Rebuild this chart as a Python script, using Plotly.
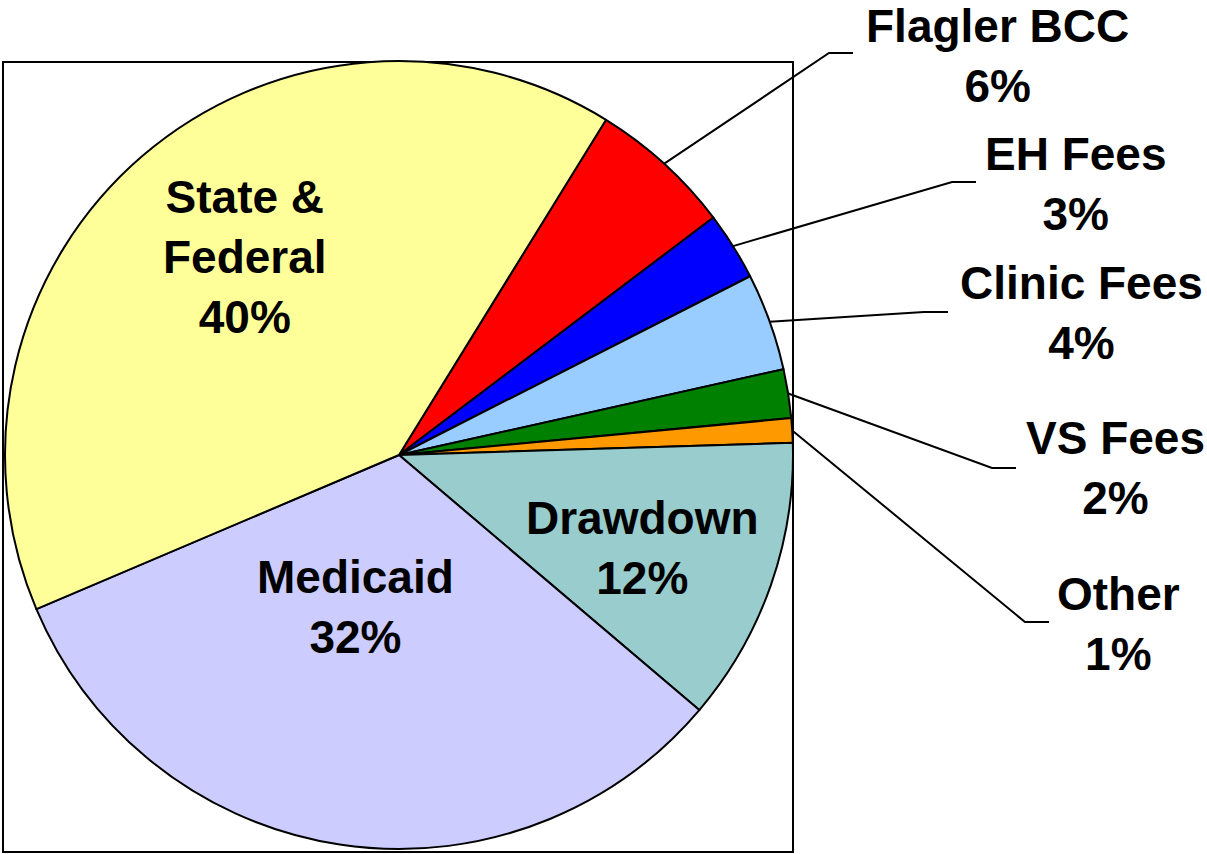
import math
import plotly.graph_objects as go

# ---- data ----
labels = ["Flagler BCC", "EH Fees", "Clinic Fees", "VS Fees", "Other",
          "Drawdown", "Medicaid", "State & Federal"]
display_labels = ["Flagler BCC", "EH Fees", "Clinic Fees", "VS Fees", "Other",
                  "Drawdown", "Medicaid", "State &<br>Federal"]
values = [5.9, 2.8, 4.0, 2.0, 1.0, 11.7, 32.4, 40.2]
colors = ["#FF0000", "#0000FF", "#99CCFF", "#008000", "#FF9900",
          "#99CCCC", "#CCCCFF", "#FFFF99"]

# ---- layout helpers (pixels) ----
W, H = 1207, 854
CX, CY, R = 399, 455, 394
ROT = 31.7


def px(x):
    return x / W


def py(y):
    return 1 - y / H


fig = go.Figure()
fig.add_trace(go.Pie(
    labels=labels, values=values, sort=False, direction="clockwise",
    rotation=ROT, textinfo="none",
    marker=dict(colors=colors, line=dict(color="black", width=2)),
    domain=dict(x=[px(CX - R), px(CX + R)], y=[py(CY + R), py(CY - R)]),
    showlegend=False,
))

# frame box
shapes = [dict(type="rect", xref="paper", yref="paper",
               x0=px(3), x1=px(793), y0=py(852), y1=py(62),
               line=dict(color="black", width=2), layer="below")]

total = sum(values)
pcts = [round(v / total * 100) for v in values]

# label placement (pixel centers) and leader-line ends
label_pos = {
    "Flagler BCC": (997, 56),
    "EH Fees": (1076, 184),
    "Clinic Fees": (1081, 313),
    "VS Fees": (1115, 468),
    "Other": (1118, 624),
    "Drawdown": (642, 548),
    "Medicaid": (355, 607),
    "State & Federal": (245, 257),
}
leader_end = {
    "Flagler BCC": (853, 53),
    "EH Fees": (976, 182),
    "Clinic Fees": (948, 312),
    "VS Fees": (1016, 468),
    "Other": (1049, 622),
}

annotations = []
cum = 0.0
for lab, disp, v, p in zip(labels, display_labels, values, pcts):
    mid = ROT + (cum + v / 2) / total * 360
    cum += v
    x, y = label_pos[lab]
    annotations.append(dict(
        x=px(x), y=py(y), xref="paper", yref="paper", showarrow=False,
        xanchor="center", yanchor="middle", align="center",
        text=f"<b>{disp}<br>{p}%</b>",
        font=dict(family="Liberation Sans, Arial", size=46, color="black"),
    ))
    if lab in leader_end:
        a = math.radians(mid)
        sx = CX + R * math.sin(a)
        sy = CY - R * math.cos(a)
        ex, ey = leader_end[lab]
        bx = ex - 24
        shapes.append(dict(
            type="path", xref="paper", yref="paper",
            path=f"M {px(sx)},{py(sy)} L {px(bx)},{py(ey)} L {px(ex)},{py(ey)}",
            line=dict(color="black", width=2),
        ))

fig.update_layout(
    width=W, height=H, margin=dict(l=0, r=0, t=0, b=0),
    paper_bgcolor="white", plot_bgcolor="white",
    shapes=shapes, annotations=annotations,
)

fig.write_html("out.html", config={"displayModeBar": False},
               post_script="document.body.style.margin='0';"
                           "document.body.style.overflow='hidden';")
